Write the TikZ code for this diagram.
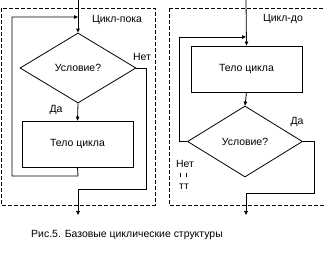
\documentclass[tikz,border=0pt]{standalone}
\usepackage{fontspec}
\setmainfont{Liberation Sans}
\usetikzlibrary{shapes.geometric,arrows.meta}
\begin{document}
\begin{tikzpicture}[x=1bp,y=-1bp,
  every node/.style={font=\fontsize{10.5}{12}\selectfont},
  line/.style={line width=0.8bp},
  arr/.style={line, -{Triangle[length=4bp,width=3.5bp]}},
  frame/.style={line width=0.8bp, dash pattern=on 4bp off 2bp},
  decision/.style={line, draw, diamond, inner sep=0pt, minimum width=#1, minimum height=70bp},
  body/.style={line, draw, rectangle, minimum width=111bp, minimum height=46bp},
  lbl/.style={inner sep=0pt}]
\useasboundingbox (0,0) rectangle (324,257);

% ---- left: Цикл-пока
\draw[frame] (1,8) rectangle (155,205);
\node[decision=116bp] (d1) at (78,68) {Условие?};
\node[body] (b1) at (77.5,144) {Тело цикла};
\coordinate (in1) at (78,0);
\coordinate (out1) at (78,215);
\coordinate (j1) at (78,17);
\draw[arr] (in1) -- (d1.north);
\draw[arr] (d1.south) -- (b1.north);
\draw[arr] (b1.south) -- (78,176) -- (12,176) -- (12,17) -- (j1);
\draw[arr] (d1.east) -- (146,68) -- (146,189) -- (78,189) -- (out1);
\node[lbl] (t1) at (117,20) {Цикл-пока};
\node[lbl] (y1) at (56,110) {Да};
\node[lbl] (n1) at (142,57) {Нет};

% ---- right: Цикл-до
\draw[frame] (169,8) -- (330,8) (169,8) -- (169,205) -- (330,205);
\node[body] (b2) at (246.5,69) {Тело цикла};
\node[decision=115bp, minimum height=71bp] (d2) at (245,141.5) {Условие?};
\coordinate (in2) at (246,0);
\coordinate (out2) at (246,215);
\coordinate (j2) at (246,37);
\draw[arr] (in2) -- (b2.north);
\draw[arr] (b2.south) -- (d2.north);
\draw[arr] (d2.west) -- (179,141.5) -- (179,37) -- (j2);
\draw[arr] (d2.east) -- (314,141.5) -- (314,193) -- (246,193) -- (out2);
\node[lbl] (t2) at (283,19) {Цикл-до};
\node[lbl] (y2) at (297,122) {Да};
\node[lbl] (n2) at (185,164) {Нет};
\node[lbl] (n2b) at (184,187) {тт};
\draw[line width=0.6bp] (180,173) -- (180,177) (186,173) -- (186,177);

% ---- caption
\node[lbl] (cap) at (127,235) {Рис.5. Базовые циклические структуры};
\end{tikzpicture}
\end{document}
